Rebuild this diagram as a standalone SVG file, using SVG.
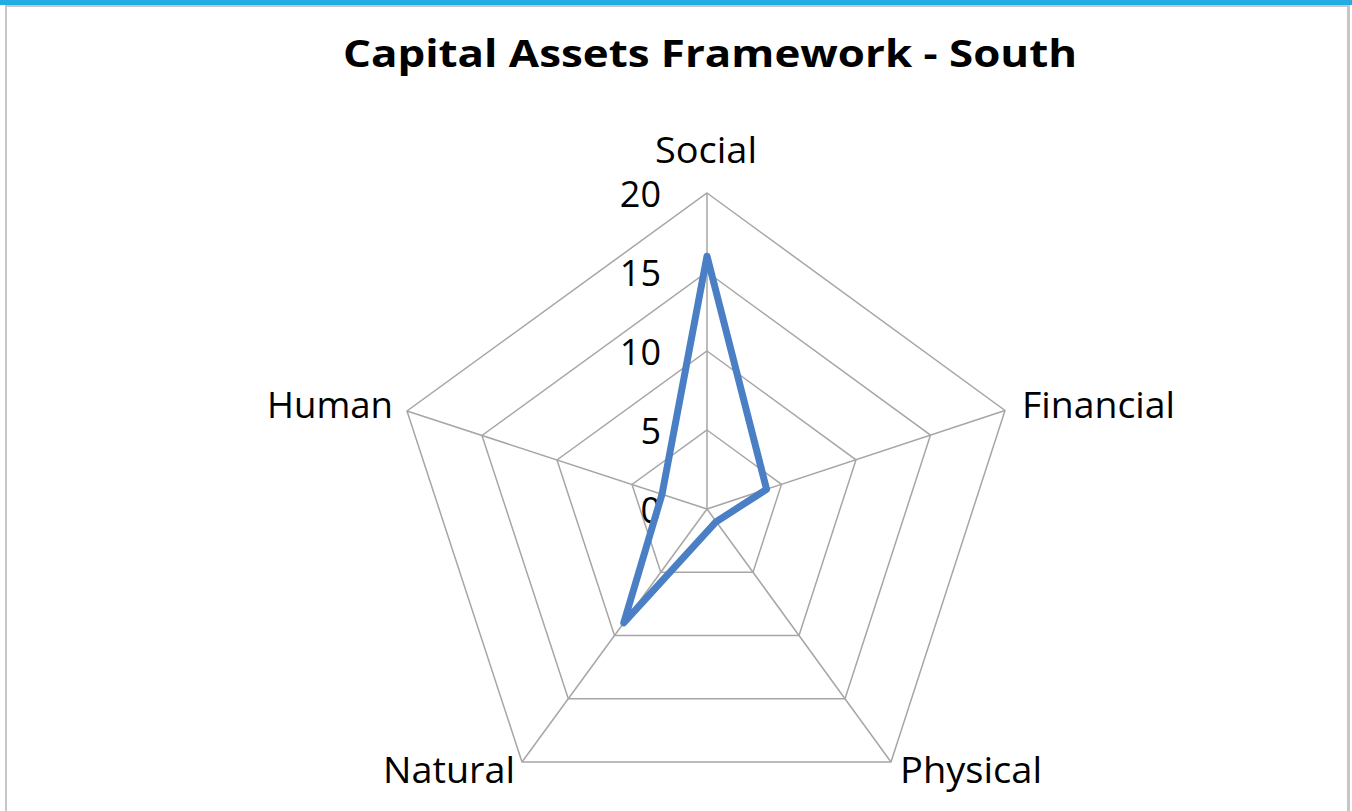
<svg xmlns="http://www.w3.org/2000/svg" width="1352" height="811" viewBox="0 0 1352 811">
<style>
.lbl{font-family:"Open Sans","Noto Sans","Liberation Sans",sans-serif;font-size:36px;fill:#000}
.tick{font-family:"Open Sans","Noto Sans","Liberation Sans",sans-serif;font-size:36px;fill:#000;text-anchor:end}
.title{font-family:"Open Sans","Noto Sans","Liberation Sans",sans-serif;font-size:38px;font-weight:bold;fill:#000}
.ring{fill:none;stroke:#A6A6A6;stroke-width:1.5}
.spoke{stroke:#A6A6A6;stroke-width:1.5}
.data{fill:none;stroke:#4A7EC5;stroke-width:7;stroke-linejoin:round;stroke-linecap:round}
</style>
<rect x="0" y="0" width="1352" height="811" fill="#FFFFFF"/>
<g id="frame">
<rect x="0" y="0" width="1352" height="5" fill="#22ACE2"/>
<rect x="5" y="5" width="1343" height="2" fill="#C6C6C6"/>
<rect x="5" y="5" width="2" height="806" fill="#C6C6C6"/>
<rect x="1347" y="5" width="3" height="806" fill="#C6C6C6"/>
</g>
<g id="title">
<text class="title" x="343" y="67" textLength="734" lengthAdjust="spacingAndGlyphs">Capital Assets Framework - South</text>
</g>
<g id="grid">
<polygon class="ring" points="707,430 781.5,484.4 753,572.3 660.8,572.3 632,484.5"/>
<polygon class="ring" points="707,351 856,459.8 799,635.5 614.5,635.5 557,460"/>
<polygon class="ring" points="707,272 930.5,435.1 845,698.8 568.3,698.8 482,435.5"/>
<polygon class="ring" points="707,193 1005,410.5 891,762 522,762 407,411"/>
<line class="spoke" x1="707" y1="509" x2="707" y2="193"/>
<line class="spoke" x1="707" y1="509" x2="1005" y2="410.5"/>
<line class="spoke" x1="707" y1="509" x2="891" y2="762"/>
<line class="spoke" x1="707" y1="509" x2="522" y2="762"/>
<line class="spoke" x1="707" y1="509" x2="407" y2="411"/>
</g>
<g id="ticks">
<text class="tick" x="661" y="207">20</text>
<text class="tick" x="661" y="286">15</text>
<text class="tick" x="661" y="365">10</text>
<text class="tick" x="661" y="444">5</text>
<text class="tick" x="661" y="523">0</text>
</g>
<g id="series">
<polygon class="data" points="707,256.2 766.6,489.3 716.2,521.7 623.7,622.9 662,494.3"/>
</g>
<g id="node-social"><text class="lbl" x="655" y="163" textLength="102" lengthAdjust="spacingAndGlyphs">Social</text></g>
<g id="node-financial"><text class="lbl" x="1022" y="418" textLength="153" lengthAdjust="spacingAndGlyphs">Financial</text></g>
<g id="node-physical"><text class="lbl" x="900" y="783" textLength="142" lengthAdjust="spacingAndGlyphs">Physical</text></g>
<g id="node-natural"><text class="lbl" x="383" y="783" textLength="132" lengthAdjust="spacingAndGlyphs">Natural</text></g>
<g id="node-human"><text class="lbl" x="267" y="418" textLength="126" lengthAdjust="spacingAndGlyphs">Human</text></g>
</svg>
